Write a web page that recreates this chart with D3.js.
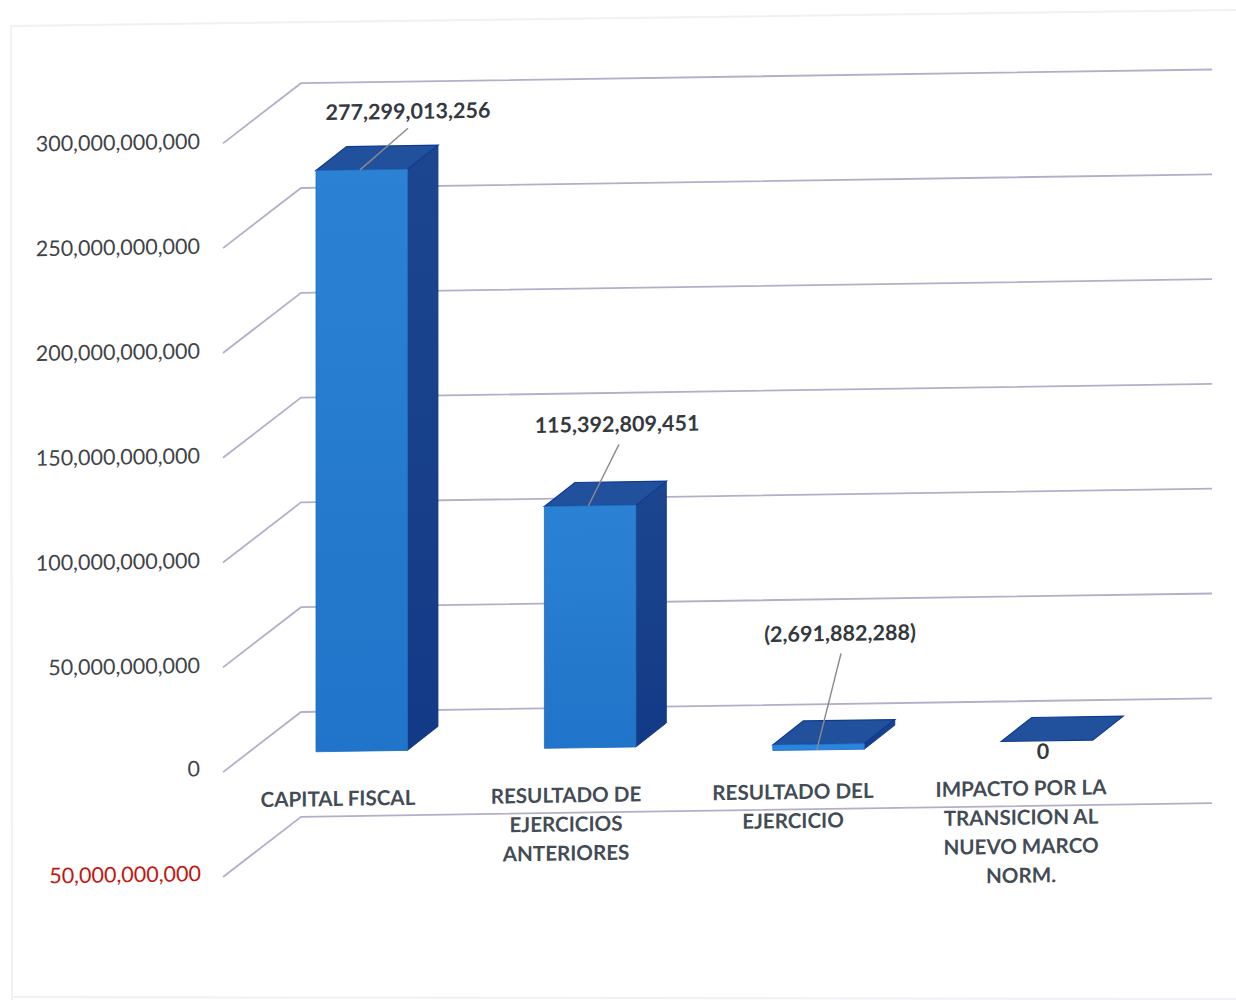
<!DOCTYPE html>
<html><head><meta charset="utf-8">
<script src="https://cdn.jsdelivr.net/npm/d3@7/dist/d3.min.js"></script>
<style>html,body{margin:0;padding:0;background:#fff}svg{display:block}</style>
</head><body><svg id="c" width="1236" height="1000"></svg>
<script>
const categories = [["CAPITAL FISCAL"],["RESULTADO DE","EJERCICIOS","ANTERIORES"],["RESULTADO DEL","EJERCICIO"],["IMPACTO POR LA","TRANSICION AL","NUEVO MARCO","NORM."]];
const values = [277299013256,115392809451,-2691882288,0];
const valueLabels = ["277,299,013,256","115,392,809,451","(2,691,882,288)","0"];
const ticks = [300e9,250e9,200e9,150e9,100e9,50e9,0,-50e9];

const W=1236,H=1000,FONT="Lato, 'Open Sans', sans-serif";
const svg=d3.select("#c");
const defs=svg.append("defs");
const grad=defs.append("linearGradient").attr("id","front").attr("x1",0).attr("y1",0).attr("x2",0).attr("y2",1);
grad.append("stop").attr("offset",0).attr("stop-color","#2b82d4");
grad.append("stop").attr("offset",1).attr("stop-color","#2074c9");
const sideGrad=defs.append("linearGradient").attr("id","side").attr("x1",0).attr("y1",0).attr("x2",0).attr("y2",1);
sideGrad.append("stop").attr("offset",0).attr("stop-color","#1d4690");
sideGrad.append("stop").attr("offset",1).attr("stop-color","#123a86");

// page frame from the scan
svg.append("path").attr("d","M12 1000 L11 26 L1236 10").attr("fill","none").attr("stroke","#f0f0f5").attr("stroke-width",2);
svg.append("path").attr("d","M12 997 L1236 999").attr("fill","none").attr("stroke","#f1f1f4").attr("stroke-width",2);

// the whole chart is slightly tilted in the scan
const SHEAR=0.015;
const g=svg.append("g").attr("transform",`matrix(1,${-SHEAR},0,1,0,${300*SHEAR})`);

const wallZero=712, frontZero=752;
const yWall=d3.scaleLinear().domain([0,50e9]).range([wallZero,wallZero-104.8]);
const yBar=d3.scaleLinear().domain([0,50e9]).range([frontZero,frontZero-104.8]);
const x=d3.scaleBand().domain(d3.range(categories.length)).range([316,1092.7]).paddingInner(0.5994).paddingOuter(0);
const DX=30.5,DY=-23.5;

// gridlines
const wallX0=301, wallX1=1212, floorDX=-78, floorDY=59;
g.append("g").selectAll("path").data(ticks).join("path")
 .attr("d",d=>`M${wallX0+floorDX} ${yWall(d)+floorDY} L${wallX0} ${yWall(d)} L${wallX1} ${yWall(d)}`)
 .attr("fill","none").attr("stroke","#b4afc9").attr("stroke-width",1.8);

// tick labels
g.append("g").selectAll("text").data(ticks).join("text")
 .attr("x",d=>d<0?201:200).attr("y",d=>yWall(d)+floorDY+5.3-(d<=0?1.5:0))
 .attr("text-anchor","end").attr("font-family",FONT).attr("font-size",21.5)
 .attr("fill",d=>d<0?"#c4150f":"#3f4448")
 .text(d=>d3.format(",")(Math.abs(d)));

// bars
const bars=g.append("g").selectAll("g").data(values).join("g");
const poly=pts=>"M"+pts.map(p=>p.join(" ")).join("L")+"Z";
bars.each(function(v,i){
  const s=d3.select(this),xl=x(i),xr=xl+x.bandwidth();
  const yt=yBar(Math.max(v,0)),yb=yBar(Math.min(v,0));
  if(yb>yt){
    s.append("path").attr("d",poly([[xr,yt],[xr+DX,yt+DY],[xr+DX,yb+DY],[xr,yb]]))
     .attr("fill","url(#side)").attr("stroke","#143a85").attr("stroke-width",.8);
  }
  s.append("path").attr("d",poly([[xl,yt],[xl+DX,yt+DY],[xr+DX,yt+DY],[xr,yt]]))
   .attr("fill","#21509d").attr("stroke","#0e3a92").attr("stroke-width",1.2);
  if(yb>yt){
    s.append("path").attr("d",poly([[xl,yt],[xr,yt],[xr,yb],[xl,yb]]))
     .attr("fill",yb-yt>20?"url(#front)":"#2a86dc").attr("stroke","#1f6cc0").attr("stroke-width",.8);
  }
});

// data labels with leader lines
const leaderFrom=[44,44,44,null];
const labelY=i=>yBar(Math.max(values[i],0));
g.append("g").selectAll("path").data(d3.range(3)).join("path")
 .attr("d",i=>{const x0=x(i)+leaderFrom[i],y0=i==2?yBar(values[i]):labelY(i);
   const tx=[408,619,841][i],ty=[y0-41,y0-61,y0-96][i];return `M${x0} ${y0} L${tx} ${ty}`;})
 .attr("stroke","#8a8a8c").attr("stroke-width",1.4).attr("fill","none");
const labelPos=[[408,120.5],[617,436.5],[840,649],[1043,770]];
g.append("g").selectAll("text").data(valueLabels).join("text")
 .attr("x",(d,i)=>labelPos[i][0]).attr("y",(d,i)=>labelPos[i][1])
 .attr("text-anchor","middle").attr("font-family",FONT).attr("font-weight",700).attr("font-size",21.5)
 .attr("fill","#33393e").text(d=>d);

// category labels
const catX=[338,566,793,1021];
const catG=g.append("g").selectAll("text").data(categories).join("text")
 .attr("text-anchor","middle").attr("font-family",FONT).attr("font-weight",700).attr("font-size",20.6)
 .attr("fill","#434c55");
catG.each(function(lines,i){
  d3.select(this).selectAll("tspan").data(lines).join("tspan")
   .attr("x",catX[i]).attr("y",(l,j)=>806.5+j*29).text(l=>l);
});
</script></body></html>
